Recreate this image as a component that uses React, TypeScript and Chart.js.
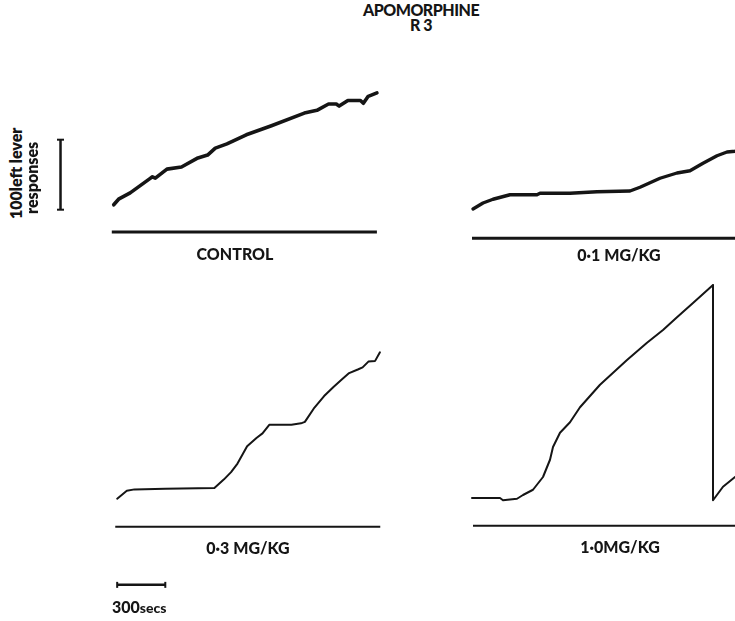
import React, { useEffect, useRef } from "react";
import { Chart, registerables } from "chart.js";

Chart.register(...registerables);

// ---- recorder calibration (from the scale bars) ----
const SEC_PER_PX = 6; // 300 secs bar = 50 px
const RESP_PER_PX = 4 / 3; // 100 responses bar = 75 px
const scaleBarResponses = 100;
const scaleBarSeconds = 300;

// ---- cumulative records: time (s) vs cumulative left-lever responses ----
const controlTime = [0, 30, 102, 222, 240, 258, 330, 420, 522, 582, 630, 702, 822, 978, 1182, 1260, 1332, 1380, 1398, 1452, 1530, 1548, 1578, 1632];
const controlResp = [0, 8, 17, 37, 40, 38, 51, 54, 67, 71, 81, 87, 100, 113, 131, 135, 144, 144, 141, 149, 149, 145, 155, 160];

const dose01Time = [0, 60, 120, 222, 384, 402, 582, 744, 942, 1002, 1062, 1122, 1224, 1302, 1380, 1464, 1524, 1572, 1632];
const dose01Resp = [0, 8, 13, 19, 19, 21, 21, 23, 24, 29, 35, 41, 48, 51, 61, 71, 76, 77, 80];

const dose03Time = [0, 60, 108, 300, 606, 666, 710, 750, 810, 870, 906, 948, 1086, 1146, 1170, 1230, 1290, 1350, 1400, 1446, 1500, 1530, 1566, 1608, 1638];
const dose03Resp = [0, 11, 13, 14, 15, 27, 37, 49, 73, 85, 91, 103, 103, 105, 107, 127, 143, 156, 166, 175, 180, 183, 191, 192, 204];

const dose10Time = [0, 168, 186, 270, 306, 366, 426, 468, 486, 528, 588, 648, 768, 930, 1050, 1146, 1230, 1326, 1446, 1446, 1506, 1578, 1638];
const dose10Resp = [0, 0, -3, -1, 4, 11, 28, 51, 68, 87, 101, 121, 151, 184, 207, 224, 241, 260, 284, -3, 15, 28, 37];

// event-pen trace: level (responses below pen origin), start and end time
const eventLevel = [-39, -39, -39, -37];
const eventStart = [-12, -6, -12, 6];
const eventEnd = [1632, 1700, 1640, 1700];

const panelLabels = ["CONTROL", "0·1 MG/KG", "0·3 MG/KG", "1·0MG/KG"];

const INK = "#151515";

type Box = { left: number; top: number; w: number; h: number };
type Panel = {
  time: number[];
  resp: number[];
  origin: [number, number];
  box: Box;
  width: number;
  eventWidth: number;
  idx: number;
  extra?: any[];
};

const pts = (t: number[], r: number[]) => t.map((x, i) => ({ x, y: r[i] }));

function PanelChart({ p }: { p: Panel }) {
  const ref = useRef<HTMLCanvasElement | null>(null);
  useEffect(() => {
    if (!ref.current) return;
    const { box, origin } = p;
    const datasets: any[] = [
      {
        data: pts(p.time, p.resp),
        borderColor: INK,
        borderWidth: p.width,
        pointRadius: 0,
        showLine: true,
        tension: 0,
        borderJoinStyle: "round",
        borderCapStyle: "round",
      },
      {
        data: pts([eventStart[p.idx], eventEnd[p.idx]], [eventLevel[p.idx], eventLevel[p.idx]]),
        borderColor: INK,
        borderWidth: p.eventWidth,
        pointRadius: 0,
        showLine: true,
      },
      ...(p.extra || []),
    ];
    const chart = new Chart(ref.current, {
      type: "scatter",
      data: { datasets },
      options: {
        animation: false,
        responsive: false,
        events: [],
        layout: { padding: 0 },
        plugins: { legend: { display: false }, tooltip: { enabled: false }, title: { display: false } },
        scales: {
          x: {
            type: "linear",
            display: false,
            min: (box.left - origin[0]) * SEC_PER_PX,
            max: (box.left + box.w - origin[0]) * SEC_PER_PX,
          },
          y: {
            type: "linear",
            display: false,
            min: (origin[1] - (box.top + box.h)) * RESP_PER_PX,
            max: (origin[1] - box.top) * RESP_PER_PX,
          },
        },
      },
    });
    return () => chart.destroy();
  }, [p]);
  return (
    <canvas
      ref={ref}
      width={p.box.w}
      height={p.box.h}
      style={{ position: "absolute", left: p.box.left, top: p.box.top, width: p.box.w, height: p.box.h }}
    />
  );
}

// scale bars (positions are layout, lengths come from the calibration constants)
const vBarT = -330;
const vBarBase = -7;
const hBarLevel = -120;

const vScaleBar = {
  data: pts([vBarT, vBarT], [vBarBase, vBarBase + scaleBarResponses]),
  borderColor: INK,
  borderWidth: 2.5,
  showLine: true,
  pointStyle: "line",
  pointRadius: 3.5,
  pointBorderWidth: 2,
  pointBorderColor: INK,
  pointRotation: 0,
};
const hScaleBar = {
  data: pts([0, scaleBarSeconds], [hBarLevel, hBarLevel]),
  borderColor: INK,
  borderWidth: 2.5,
  showLine: true,
  pointStyle: "line",
  pointRadius: 3,
  pointBorderWidth: 2,
  pointBorderColor: INK,
  pointRotation: 90,
};

const panels: Panel[] = [
  { idx: 0, time: controlTime, resp: controlResp, origin: [110, 208], box: { left: 40, top: 70, w: 370, h: 180 }, width: 3.6, eventWidth: 3, extra: [vScaleBar] },
  { idx: 1, time: dose01Time, resp: dose01Resp, origin: [473, 209], box: { left: 440, top: 120, w: 320, h: 130 }, width: 3.4, eventWidth: 3 },
  { idx: 2, time: dose03Time, resp: dose03Resp, origin: [112, 500], box: { left: 90, top: 330, w: 320, h: 280 }, width: 2, eventWidth: 2 },
  { idx: 3, time: dose10Time, resp: dose10Resp, origin: [472, 498], box: { left: 440, top: 270, w: 320, h: 270 }, width: 2, eventWidth: 2 },
];
panels[2].extra = [hScaleBar];

const FONT = "Lato, 'Open Sans', sans-serif";

const labelPos: [number, number][] = [
  [235, 245],
  [619, 246],
  [248, 539],
  [620, 538],
];

export default function App() {
  return (
    <div
      style={{
        position: "absolute",
        left: 0,
        top: 0,
        width: 735,
        height: 621,
        overflow: "hidden",
        background: "#fff",
        fontFamily: FONT,
        fontWeight: 900,
        color: INK,
      }}
    >
      <div style={{ position: "absolute", left: 421, top: 2, transform: "translateX(-50%)", textAlign: "center", fontSize: 16, lineHeight: "15px", letterSpacing: -0.5 }}>
        APOMORPHINE
        <br />R 3
      </div>
      {panels.map((p) => (
        <PanelChart key={p.idx} p={p} />
      ))}
      {panelLabels.map((t, i) => (
        <div
          key={t}
          style={{
            position: "absolute",
            left: labelPos[i][0],
            top: labelPos[i][1],
            transform: "translateX(-50%)",
            fontSize: 16,
            lineHeight: "18px",
            whiteSpace: "nowrap",
          }}
        >
          {t}
        </div>
      ))}
      <div
        style={{
          position: "absolute",
          left: 7,
          top: 219,
          transform: "rotate(-90deg)",
          transformOrigin: "left top",
          fontSize: 16,
          lineHeight: "17px",
          whiteSpace: "nowrap",
          fontWeight: 800,
        }}
      >
        100left lever
      </div>
      <div
        style={{
          position: "absolute",
          left: 24,
          top: 214,
          transform: "rotate(-90deg)",
          transformOrigin: "left top",
          fontSize: 16,
          lineHeight: "16px",
          whiteSpace: "nowrap",
          fontWeight: 800,
        }}
      >
        responses
      </div>
      <div style={{ position: "absolute", left: 112, top: 598, fontSize: 16, lineHeight: "18px", whiteSpace: "nowrap" }}>
        300<span style={{ fontSize: 14 }}>secs</span>
      </div>
    </div>
  );
}
